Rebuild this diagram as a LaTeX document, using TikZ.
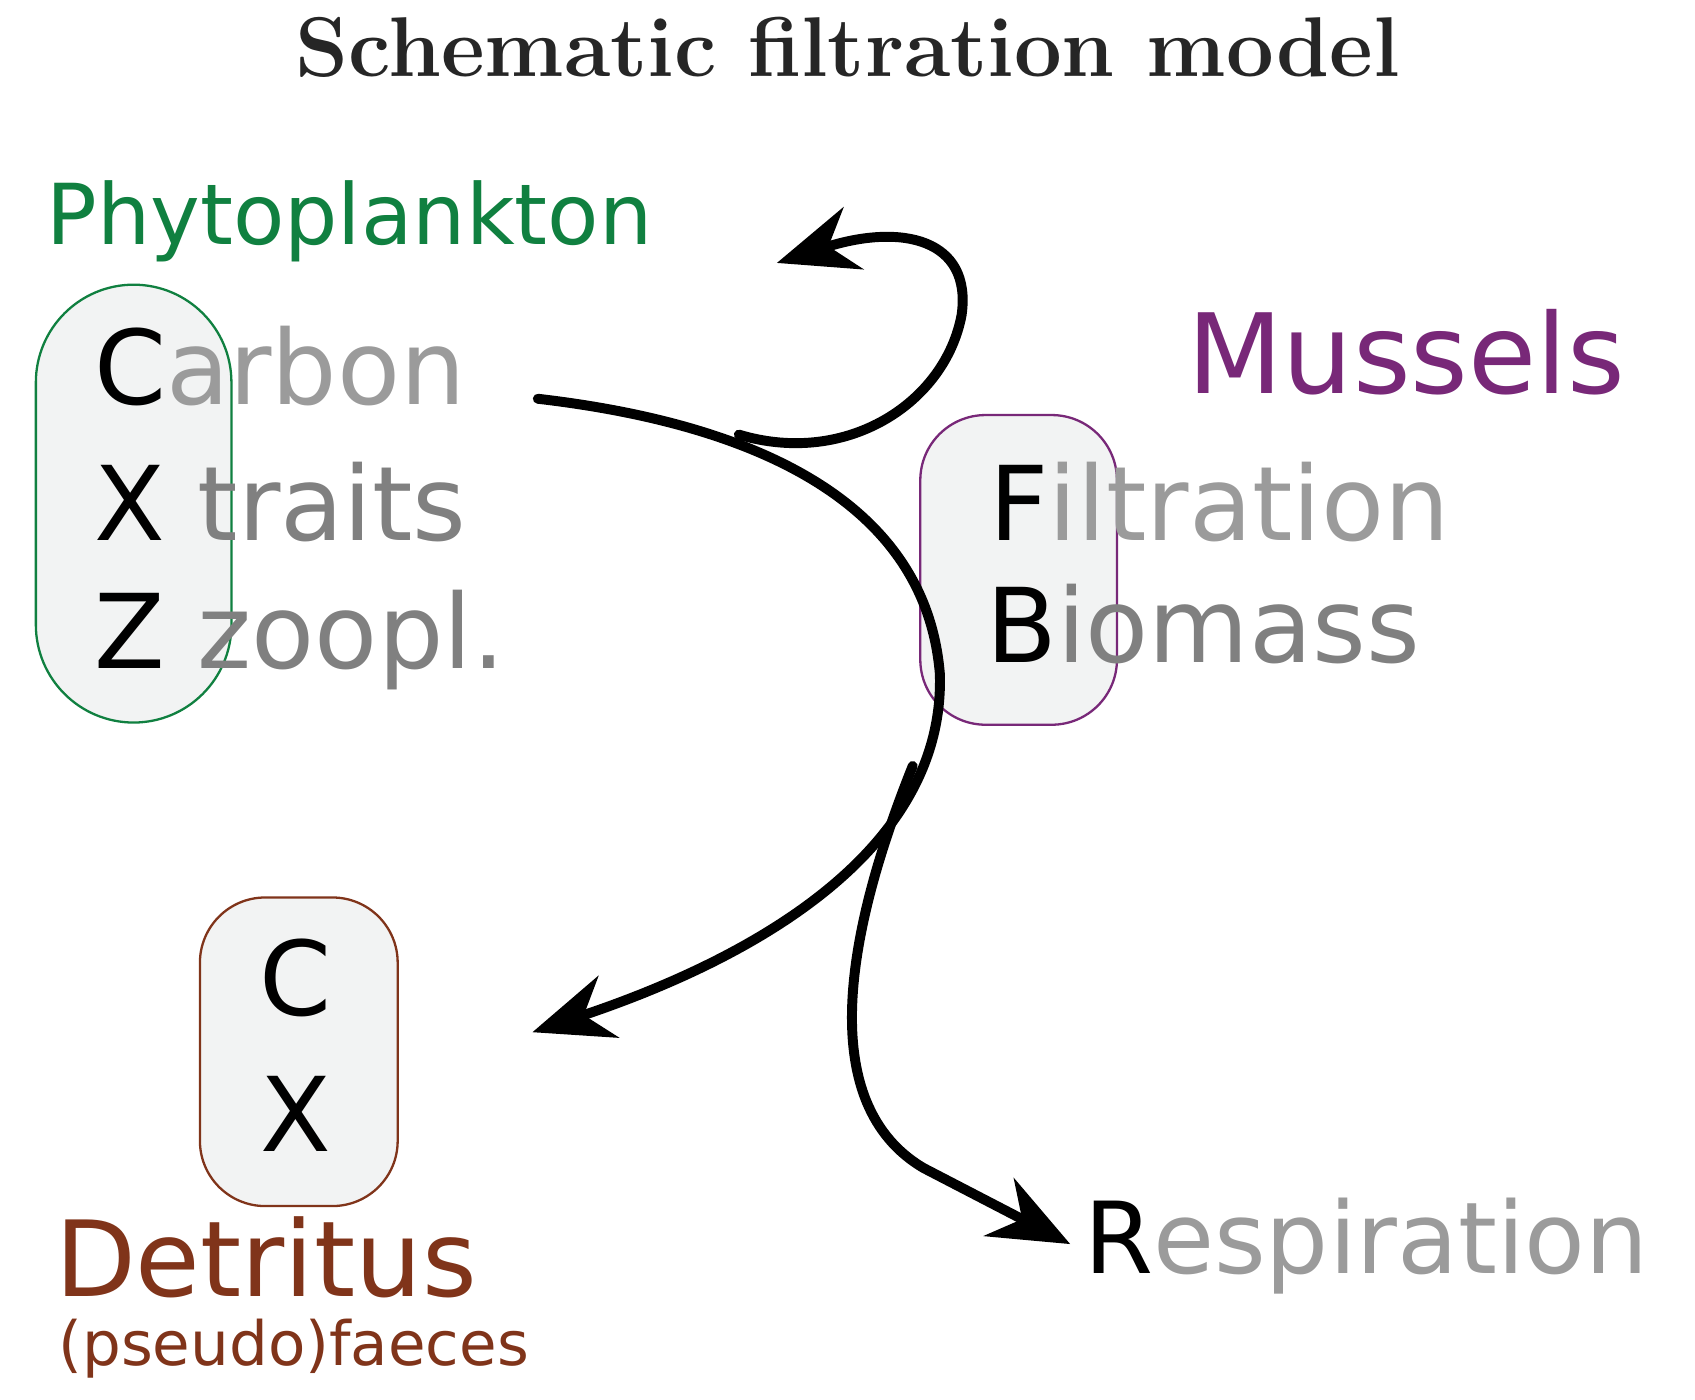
\documentclass[tikz,border=0pt]{standalone}
\usepackage{fontspec}
\setmainfont{DejaVu Sans}
\newfontfamily\cmb{Latin Modern Roman}
\usetikzlibrary{arrows.meta}
\definecolor{phy}{RGB}{16,128,64}
\definecolor{mus}{RGB}{120,40,120}
\definecolor{det}{RGB}{128,52,26}
\definecolor{lg}{RGB}{155,155,155}
\definecolor{dg}{RGB}{128,128,128}
\definecolor{boxf}{RGB}{242,243,243}
\begin{document}
\begin{tikzpicture}[x=0.01cm,y=-0.01cm,
  box/.style={draw=#1,line width=0.6pt,fill=boxf},
  lbl/.style={anchor=base west,inner sep=0pt},
  flow/.style={line width=2.6pt,line cap=round,-{Stealth[length=21pt,width=17pt]}}]
\useasboundingbox (0,0) rectangle (1560,1288);
\filldraw[box=phy,rounded corners=0.9cm] (33,262) rectangle (213,665);
\filldraw[box=mus,rounded corners=0.6cm] (847,382) rectangle (1028,667);
\filldraw[box=det,rounded corners=0.6cm] (184,826) rectangle (366,1110);
\node[anchor=base,inner sep=0pt,font=\cmb\bfseries\fontsize{22.2}{26}\selectfont,text=black!85] (title) at (780,70) {Schematic filtration model};
\node[lbl,font=\fontsize{22}{26}\selectfont,text=phy] (phy) at (42,225) {Phytoplankton};
\node[lbl,font=\fontsize{29}{34}\selectfont,text=mus] (mus) at (1092,362) {Mussels};
\node[lbl,font=\fontsize{27}{32}\selectfont] (carbon) at (86,372) {C\textcolor{lg}{arbon}};
\node[lbl,font=\fontsize{27}{32}\selectfont] (traits) at (86,497) {X \textcolor{dg}{traits}};
\node[lbl,font=\fontsize{27}{32}\selectfont] (zoo) at (86,615) {Z \textcolor{dg}{zoopl.}};
\node[lbl,font=\fontsize{27}{32}\selectfont] (filt) at (910,497) {F\textcolor{lg}{iltration}};
\node[lbl,font=\fontsize{27}{32}\selectfont] (bio) at (907,610) {B\textcolor{dg}{iomass}};
\node[anchor=base,inner sep=0pt,font=\fontsize{27}{32}\selectfont] (dc) at (272,935) {C};
\node[anchor=base,inner sep=0pt,font=\fontsize{27}{32}\selectfont] (dx) at (272,1060) {X};
\node[lbl,font=\fontsize{27.5}{33}\selectfont,text=det] (detr) at (50,1193) {Detritus};
\node[lbl,font=\fontsize{16}{19}\selectfont,text=det] (faec) at (53,1257) {(pseudo)faeces};
\node[lbl,font=\fontsize{26}{31}\selectfont] (resp) at (997,1172) {R\textcolor{lg}{espiration}};
\coordinate (s) at (495,367);
\coordinate (m) at (865,620);
\coordinate (d) at (490,950);
\coordinate (b1) at (680,400);
\coordinate (l1) at (885,290);
\coordinate (p) at (715,242);
\coordinate (b2) at (840,705);
\coordinate (r1) at (850,1075);
\coordinate (r) at (985,1145);
\draw[flow] (s) .. controls (650,385) and (850,440) .. (m) .. controls (870,780) and (700,880) .. (d);
\draw[flow] (b1) .. controls (780,430) and (870,370) .. (l1) .. controls (895,220) and (830,205) .. (p);
\draw[flow] (b2) .. controls (790,830) and (740,1010) .. (r1) -- (r);
\end{tikzpicture}
\end{document}
